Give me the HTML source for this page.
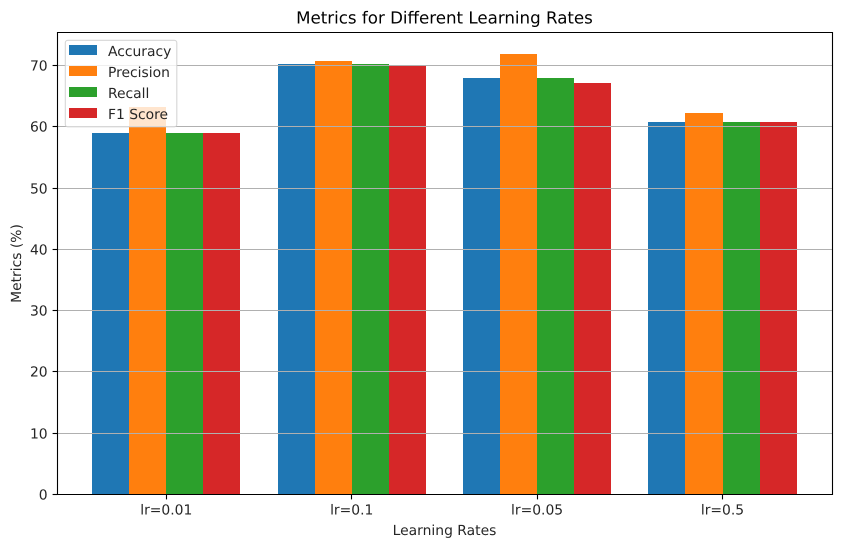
<!DOCTYPE html>
<html lang="en">
<head>
<meta charset="utf-8">
<title>Metrics for Different Learning Rates</title>
<style>
html,body{margin:0;padding:0;background:#fff;}
body{width:841px;height:547px;overflow:hidden;}
svg{display:block;}
text{font-family:"DejaVu Sans","Liberation Sans",sans-serif;fill:#262626;text-rendering:geometricPrecision;}
</style>
</head>
<body>
<svg id="chart" xmlns="http://www.w3.org/2000/svg" width="841" height="547" viewBox="0 0 841 547">
  <rect x="0" y="0" width="841" height="547" fill="#ffffff"/>
  <g id="bars"></g>
  <g id="grid"></g>
  <g id="ticks"></g>
  <g stroke="#000" stroke-width="1.1" fill="none">
    <line x1="57.5" y1="32" x2="57.5" y2="495"/>
    <line x1="832.5" y1="32" x2="832.5" y2="495"/>
    <line x1="57" y1="32.5" x2="833" y2="32.5"/>
    <line x1="57" y1="494.5" x2="833" y2="494.5"/>
  </g>
  <text x="444.5" y="23.5" text-anchor="middle" font-size="16.67" style="fill:#000">Metrics for Different Learning Rates</text>
  <text x="444.5" y="535" text-anchor="middle" font-size="13.89">Learning Rates</text>
  <text transform="translate(21,263.5) rotate(-90)" text-anchor="middle" font-size="13.89">Metrics (%)</text>
  <g id="legend"></g>
</svg>
<script>
var categories = ["lr=0.01", "lr=0.1", "lr=0.05", "lr=0.5"];
var seriesNames = ["Accuracy", "Precision", "Recall", "F1 Score"];
var accuracyValues = [59.0, 70.2, 68.0, 60.8];
var precisionValues = [63.2, 70.7, 71.9, 62.3];
var recallValues = [59.0, 70.2, 68.0, 60.8];
var f1Values = [59.0, 70.0, 67.1, 60.8];
var yTickLabels = [0, 10, 20, 30, 40, 50, 60, 70];

var seriesValues = [accuracyValues, precisionValues, recallValues, f1Values];
var seriesColors = ["#1f77b4", "#ff7f0e", "#2ca02c", "#d62728"];
var NS = "http://www.w3.org/2000/svg";
var plotLeft = 56.9, plotRight = 831.9, plotBottom = 494.3;
var barUnits = 0.2;
var xMin = -0.59, xMax = categories.length - 1 + 0.59;
var pixelsPerPercent = 6.125;

function xScale(v) {
  return plotLeft + (v - xMin) * (plotRight - plotLeft) / (xMax - xMin);
}
function yScale(v) {
  return plotBottom - v * pixelsPerPercent;
}
function make(tag, attrs, parent) {
  var el = document.createElementNS(NS, tag);
  for (var k in attrs) { el.setAttribute(k, attrs[k]); }
  parent.appendChild(el);
  return el;
}

var barsGroup = document.getElementById("bars");
var gridGroup = document.getElementById("grid");
var ticksGroup = document.getElementById("ticks");
var legendGroup = document.getElementById("legend");

seriesValues.forEach(function (values, s) {
  values.forEach(function (v, c) {
    var left = Math.round(xScale(c + (s - 2) * barUnits));
    var right = Math.round(xScale(c + (s - 1) * barUnits));
    var top = Math.round(yScale(v));
    var bottom = Math.round(yScale(0));
    var bar = make("rect", {
      x: left, y: top, width: right - left, height: bottom - top, fill: seriesColors[s]
    }, barsGroup);
    
    
  });
});

yTickLabels.forEach(function (t) {
  var y = Math.floor(yScale(t)) + 0.5;
  if (t > 0) {
    var line = make("line", {
      x1: 57.5, x2: 832.5, y1: y, y2: y, stroke: "#b0b0b0", "stroke-width": 1.1
    }, gridGroup);
    
    
  }
  var mark = make("line", {
    x1: 52.6, x2: 57.5, y1: y, y2: y, stroke: "#000", "stroke-width": 1.1
  }, ticksGroup);
  
  
  var label = make("text", {
    x: 47.6, y: y + 5.2, "text-anchor": "end", "font-size": 13.89
  }, ticksGroup);
  
  
  label.textContent = t;
});

categories.forEach(function (name, c) {
  var x = xScale(c);
  var markX = Math.floor(x) + 0.5;
  var mark = make("line", {
    x1: markX, x2: markX, y1: 494.5, y2: 499.4, stroke: "#000", "stroke-width": 1.1
  }, ticksGroup);
  
  
  var label = make("text", {
    x: x, y: 514.5, "text-anchor": "middle", "font-size": 13.89
  }, ticksGroup);
  
  
  label.textContent = name;
});

var legendBox = make("rect", {
  x: 65.3, y: 40.3, width: 111.5, height: 86.5, rx: 2.5, ry: 2.5,
  fill: "#ffffff", "fill-opacity": 0.8, stroke: "#cccccc", "stroke-opacity": 0.8, "stroke-width": 1.1
}, legendGroup);



seriesNames.forEach(function (name, s) {
  var top = 45 + s * 21;
  var swatch = make("rect", {
    x: 69, y: top, width: 28, height: 10, fill: seriesColors[s]
  }, legendGroup);
  
  
  var label = make("text", {
    x: 108, y: top + 11, "font-size": 13.89
  }, legendGroup);
  
  
  label.textContent = name;
});
</script>
</body>
</html>
